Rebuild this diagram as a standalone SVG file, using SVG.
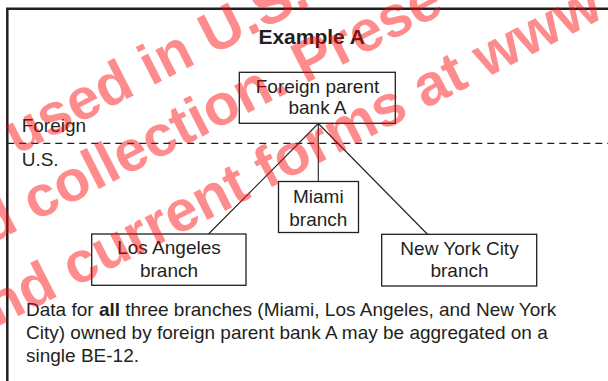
<svg xmlns="http://www.w3.org/2000/svg" width="608" height="381" viewBox="0 0 608 381">
<style>
.t{font-family:"Liberation Sans",Arial,sans-serif;font-size:19px;fill:#231f20}
.c{text-anchor:middle}
.b{font-weight:bold}
.box{fill:#fff;stroke:#231f20;stroke-width:1.3}
.ln{stroke:#231f20;stroke-width:1.1;fill:none}
.wm{font-family:"Liberation Sans",Arial,sans-serif;font-weight:bold;font-size:58px;fill:#ff0000;fill-opacity:0.45}
</style>
<rect width="608" height="381" fill="#fff"/>
<g id="frame">
<path d="M7.3,381 V8.7 H608" fill="none" stroke="#231f20" stroke-width="2.5"/>
<line x1="7.3" y1="143.3" x2="608" y2="143.3" stroke="#231f20" stroke-width="1.3" stroke-dasharray="7,5"/>
</g>
<g id="labels">
<text class="t b c" x="311.7" y="44" style="font-size:21px">Example A</text>
<text class="t" x="21.7" y="131.7">Foreign</text>
<text class="t" x="21.7" y="165.7">U.S.</text>
</g>
<g id="connectors">
<line class="ln" x1="318.3" y1="123.5" x2="208.5" y2="234"/>
<line class="ln" x1="318.3" y1="123.5" x2="318.3" y2="181.5"/>
<line class="ln" x1="318.3" y1="123.5" x2="427.7" y2="234.5"/>
</g>
<g id="parent">
<rect class="box" x="239.3" y="72.3" width="156" height="51"/>
<text class="t c" x="317.5" y="92.7">Foreign parent</text>
<text class="t c" x="317.5" y="114.3">bank A</text>
</g>
<g id="miami">
<rect class="box" x="278.5" y="181.5" width="80" height="51"/>
<text class="t c" x="318.3" y="203">Miami</text>
<text class="t c" x="318.3" y="226">branch</text>
</g>
<g id="losangeles">
<rect class="box" x="91.7" y="234" width="154.3" height="51.3"/>
<text class="t c" x="169" y="254">Los Angeles</text>
<text class="t c" x="169" y="277.3">branch</text>
</g>
<g id="newyork">
<rect class="box" x="381.7" y="234.3" width="155" height="51.7"/>
<text class="t c" x="459.5" y="255">New York City</text>
<text class="t c" x="459.5" y="277.3">branch</text>
</g>
<g id="note">
<text class="t" x="26" y="316">Data for <tspan class="b">all</tspan> three branches (Miami, Los Angeles, and New York</text>
<text class="t" x="26" y="339">City) owned by foreign parent bank A may be aggregated on a</text>
<text class="t" x="26" y="362">single BE-12.</text>
</g>
<g id="watermark">
<text class="wm" transform="translate(16.4,155) rotate(-27)">used in U.S.</text>
<text class="wm" transform="translate(-11,245) rotate(-27)">d collection. Prese</text>
<text class="wm" transform="translate(-3,327) rotate(-27)">nd current forms at www</text>
</g>
</svg>
